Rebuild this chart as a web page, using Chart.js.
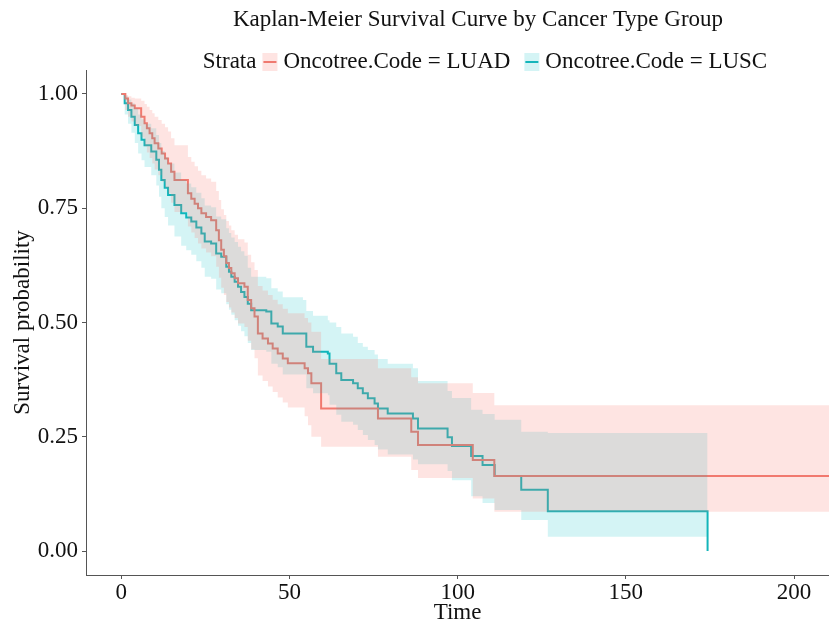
<!DOCTYPE html>
<html>
<head>
<meta charset="utf-8">
<script src="https://cdn.jsdelivr.net/npm/chart.js@4.4.1/dist/chart.umd.min.js"></script>
<style>
  body { margin: 0; background: #fff; }
  #box { width: 829px; height: 624px; }
</style>
</head>
<body>
<div id="box"><canvas id="km" width="829" height="624"></canvas></div>
<script>
// Kaplan-Meier steps (time, survival, lower / upper CI)
const luadTime  = [0, 1.2, 2, 3, 4, 5.9, 6.9, 7.6, 8.4, 9.2, 9.9, 11, 12, 13, 13.9, 14.8, 15.8, 19.8, 20.8, 21.8, 22.8, 23.8, 25.2, 26.7, 28.2, 29, 29.7, 30.5, 31.2, 32, 32.7, 33.7, 34.7, 36.6, 37.6, 38.6, 39.6, 40.6, 42, 43.6, 45, 46.5, 48, 49.5, 54.5, 55.5, 56.5, 59.4, 76.3, 86.2, 88.2, 104.5, 110.9, 210.4]
const luadSurv  = [1, 0.99, 0.98, 0.975, 0.969, 0.95, 0.936, 0.925, 0.914, 0.903, 0.892, 0.881, 0.87, 0.859, 0.848, 0.83, 0.812, 0.783, 0.771, 0.76, 0.75, 0.739, 0.731, 0.724, 0.702, 0.68, 0.659, 0.645, 0.63, 0.619, 0.608, 0.597, 0.586, 0.578, 0.549, 0.531, 0.513, 0.476, 0.465, 0.454, 0.443, 0.432, 0.421, 0.411, 0.4, 0.389, 0.367, 0.312, 0.29, 0.261, 0.232, 0.199, 0.164, 0.164]
const luadLower = [1, 0.965, 0.95, 0.94, 0.93, 0.905, 0.885, 0.872, 0.86, 0.848, 0.835, 0.822, 0.808, 0.795, 0.782, 0.762, 0.742, 0.71, 0.697, 0.685, 0.673, 0.662, 0.653, 0.645, 0.622, 0.598, 0.576, 0.56, 0.545, 0.533, 0.522, 0.51, 0.498, 0.49, 0.46, 0.441, 0.422, 0.384, 0.372, 0.36, 0.348, 0.336, 0.325, 0.314, 0.295, 0.275, 0.25, 0.228, 0.206, 0.177, 0.16, 0.115, 0.086, 0.086]
const luadUpper = [1, 0.998, 0.995, 0.992, 0.99, 0.985, 0.978, 0.972, 0.965, 0.958, 0.95, 0.943, 0.935, 0.927, 0.918, 0.903, 0.888, 0.862, 0.852, 0.842, 0.832, 0.822, 0.815, 0.808, 0.788, 0.768, 0.748, 0.735, 0.722, 0.712, 0.702, 0.692, 0.682, 0.675, 0.648, 0.632, 0.615, 0.58, 0.57, 0.56, 0.55, 0.54, 0.53, 0.52, 0.51, 0.5, 0.48, 0.42, 0.4, 0.38, 0.367, 0.346, 0.319, 0.319]

const luscTime  = [0, 1, 2, 3, 4, 5, 6, 6.9, 8.9, 10.4, 11.2, 11.9, 12.9, 13.9, 15.8, 17.8, 19.3, 20.8, 22.3, 23.8, 24.8, 26.7, 28.2, 29.7, 31.2, 32, 32.7, 33.7, 34.7, 35.6, 36.6, 37.6, 38.6, 43.1, 44.6, 46.5, 48, 54, 55, 57, 61.4, 61.9, 63.9, 65.4, 68.9, 70.3, 71.8, 73.3, 75.3, 76.3, 79.2, 86.7, 88.2, 97, 98.3, 104, 107.4, 111, 118.9, 126.8, 174.3]
const luscSurv  = [1, 0.98, 0.965, 0.95, 0.932, 0.914, 0.9, 0.888, 0.874, 0.856, 0.834, 0.812, 0.795, 0.779, 0.757, 0.739, 0.73, 0.721, 0.708, 0.695, 0.677, 0.673, 0.651, 0.644, 0.622, 0.611, 0.6, 0.589, 0.578, 0.567, 0.556, 0.541, 0.527, 0.524, 0.498, 0.491, 0.476, 0.476, 0.447, 0.436, 0.432, 0.41, 0.389, 0.374, 0.367, 0.356, 0.345, 0.334, 0.323, 0.312, 0.301, 0.29, 0.268, 0.249, 0.23, 0.208, 0.188, 0.164, 0.134, 0.087, 0]
const luscLower = [1, 0.955, 0.935, 0.915, 0.893, 0.87, 0.855, 0.84, 0.822, 0.8, 0.775, 0.75, 0.731, 0.712, 0.688, 0.668, 0.658, 0.648, 0.634, 0.62, 0.6, 0.596, 0.572, 0.564, 0.54, 0.528, 0.517, 0.505, 0.493, 0.481, 0.47, 0.455, 0.44, 0.436, 0.41, 0.402, 0.386, 0.386, 0.356, 0.345, 0.341, 0.32, 0.298, 0.283, 0.276, 0.265, 0.254, 0.243, 0.232, 0.222, 0.211, 0.2, 0.19, 0.175, 0.155, 0.12, 0.105, 0.09, 0.068, 0.031, 0.031]
const luscUpper = [1, 0.995, 0.988, 0.98, 0.968, 0.955, 0.945, 0.935, 0.925, 0.91, 0.893, 0.875, 0.862, 0.848, 0.828, 0.812, 0.804, 0.796, 0.784, 0.772, 0.756, 0.752, 0.732, 0.726, 0.706, 0.696, 0.686, 0.676, 0.666, 0.656, 0.646, 0.62, 0.6, 0.597, 0.575, 0.568, 0.555, 0.549, 0.525, 0.515, 0.505, 0.5, 0.49, 0.476, 0.469, 0.455, 0.447, 0.44, 0.43, 0.42, 0.41, 0.4, 0.372, 0.35, 0.335, 0.309, 0.3, 0.287, 0.261, 0.258, 0.258]

const xTicks = [0, 50, 100, 150, 200]
const yTicks = [0, 0.25, 0.5, 0.75, 1]
const groupNames = ['Oncotree.Code = LUAD', 'Oncotree.Code = LUSC']
const titleText = 'Kaplan-Meier Survival Curve by Cancer Type Group'

const serif = "'Liberation Serif', 'Times New Roman', serif"
const red = '#EF7A70'
const teal = '#14B5BA'
const redFill = 'rgba(248, 118, 109, 0.2)'
const tealFill = 'rgba(0, 191, 196, 0.17)'

function toPoints(times, values){
    let pts = []
    for (let i = 0; i < times.length; i++){
        pts.push({x: times[i], y: values[i]})
    }
    return pts
}

function band(values, times, fill, color){
    return {
        data: toPoints(times, values),
        stepped: true,
        borderWidth: 0,
        pointRadius: 0,
        backgroundColor: color,
        fill: fill,
        order: 1
    }
}

// title + strata legend, drawn like ggplot does it
const headerPlugin = {
    id: 'header',
    afterDraw(chart){
        const ctx = chart.ctx
        ctx.save()
        ctx.fillStyle = '#111'
        ctx.textBaseline = 'middle'
        ctx.font = '23px ' + serif
        ctx.textAlign = 'center'
        ctx.fillText(titleText, 478, 20)

        ctx.textAlign = 'left'
        const keyW = 15, gap = 6
        let parts = ctx.measureText('Strata').width + gap
        for (const name of groupNames){
            parts += keyW + gap + ctx.measureText(name).width + 14
        }
        let x = 492 - parts / 2
        const y = 62
        ctx.fillText('Strata', x, y)
        x += ctx.measureText('Strata').width + gap
        const keys = [[redFill, red], [tealFill, teal]]
        groupNames.forEach((name, i) => {
            ctx.fillStyle = keys[i][0]
            ctx.fillRect(x, y - 9, keyW, 18)
            ctx.strokeStyle = keys[i][1]
            ctx.lineWidth = 2
            ctx.beginPath()
            ctx.moveTo(x + 1, y)
            ctx.lineTo(x + keyW - 1, y)
            ctx.stroke()
            x += keyW + gap
            ctx.fillStyle = '#111'
            ctx.fillText(name, x, y)
            x += ctx.measureText(name).width + 14
        })
        ctx.restore()
    }
}

const ctx = document.getElementById('km').getContext('2d')
window.chart = new Chart(ctx, {
    type: 'line',
    data: {
        datasets: [
            band(luadUpper, luadTime, '+1', redFill),
            band(luadLower, luadTime, false, redFill),
            band(luscUpper, luscTime, '+1', tealFill),
            band(luscLower, luscTime, false, tealFill),
            {
                label: groupNames[0],
                data: toPoints(luadTime, luadSurv),
                stepped: true,
                borderColor: red,
                borderWidth: 2,
                pointRadius: 0,
                fill: false,
                order: 2
            },
            {
                label: groupNames[1],
                data: toPoints(luscTime, luscSurv),
                stepped: true,
                borderColor: teal,
                borderWidth: 2,
                pointRadius: 0,
                fill: false,
                order: 2
            }
        ]
    },
    options: {
        responsive: false,
        animation: false,
        devicePixelRatio: 1,
        layout: {
            padding: {top: 70, left: 0, right: 0, bottom: 0}
        },
        plugins: {
            legend: {display: false},
            title: {display: false},
            tooltip: {enabled: false}
        },
        scales: {
            x: {
                type: 'linear',
                min: -10.5,
                max: 210.4,
                afterFit(scale){ scale.height = 49 },
                afterBuildTicks(scale){ scale.ticks = xTicks.map(v => ({value: v})) },
                ticks: {
                    color: '#111',
                    padding: 0,
                    font: {family: serif, size: 23}
                },
                grid: {drawOnChartArea: false, drawTicks: true, tickLength: 4, color: '#555'},
                border: {display: true, color: '#555', width: 1},
                title: {
                    display: true,
                    text: 'Time',
                    color: '#111',
                    padding: {top: 0, bottom: -3},
                    font: {family: serif, size: 23}
                }
            },
            y: {
                type: 'linear',
                min: -0.0525,
                max: 1.0525,
                afterFit(scale){ scale.width = 86 },
                afterBuildTicks(scale){ scale.ticks = yTicks.map(v => ({value: v})) },
                ticks: {
                    color: '#111',
                    padding: 4,
                    font: {family: serif, size: 23},
                    callback: v => v.toFixed(2)
                },
                grid: {drawOnChartArea: false, drawTicks: true, tickLength: 4, color: '#555'},
                border: {display: true, color: '#555', width: 1},
                title: {
                    display: true,
                    text: 'Survival probability',
                    color: '#111',
                    padding: {top: 9, bottom: 0},
                    font: {family: serif, size: 23}
                }
            }
        }
    },
    plugins: [headerPlugin]
});
</script>
</body>
</html>
